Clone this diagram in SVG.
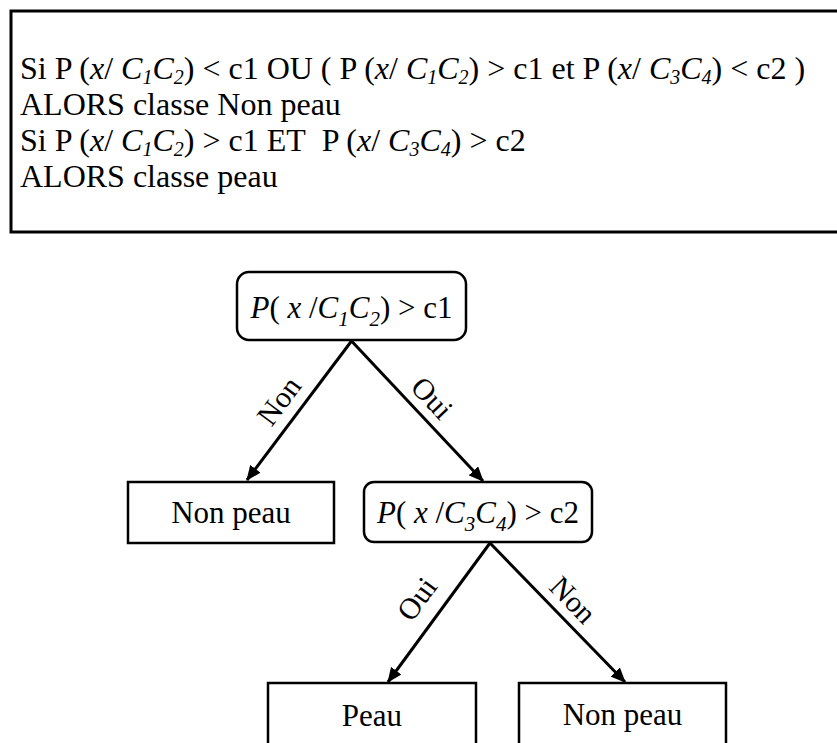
<svg xmlns="http://www.w3.org/2000/svg" width="837" height="743" viewBox="0 0 837 743">
<style>
text{font-family:"Liberation Serif","Times New Roman",serif;fill:#000}
.rule{font-size:32px}
.node{font-size:31px;text-anchor:middle}
.lbl{font-size:30px;text-anchor:middle}
.box{fill:#fff;stroke:#000;stroke-width:2.5}
.edge{stroke:#000;stroke-width:3;fill:none}
.i{font-style:italic}
</style>
<defs>
<marker id="ah" markerUnits="userSpaceOnUse" markerWidth="15" markerHeight="13" refX="14" refY="6.5" orient="auto">
<path d="M0,0 L15,6.5 L0,13 z" fill="#000"/>
</marker>
</defs>
<g id="rules">
<rect x="11" y="11" width="850" height="221" fill="#fff" stroke="#000" stroke-width="3"/>
<text class="rule" x="20" y="79">Si P (<tspan class="i">x</tspan>/ <tspan class="i">C<tspan font-size="20" dy="5">1</tspan><tspan dy="-5">C</tspan><tspan font-size="20" dy="5">2</tspan></tspan><tspan dy="-5">) &lt; c1 OU ( P (</tspan><tspan class="i">x</tspan>/ <tspan class="i">C<tspan font-size="20" dy="5">1</tspan><tspan dy="-5">C</tspan><tspan font-size="20" dy="5">2</tspan></tspan><tspan dy="-5">) &gt; c1 et P (</tspan><tspan class="i">x</tspan>/ <tspan class="i">C<tspan font-size="20" dy="5">3</tspan><tspan dy="-5">C</tspan><tspan font-size="20" dy="5">4</tspan></tspan><tspan dy="-5">) &lt; c2 )</tspan></text>
<text class="rule" x="20" y="115">ALORS classe Non peau</text>
<text class="rule" x="20" y="151">Si P (<tspan class="i">x</tspan>/ <tspan class="i">C<tspan font-size="20" dy="5">1</tspan><tspan dy="-5">C</tspan><tspan font-size="20" dy="5">2</tspan></tspan><tspan dy="-5">) &gt; c1 ET&#160; P (</tspan><tspan class="i">x</tspan>/ <tspan class="i">C<tspan font-size="20" dy="5">3</tspan><tspan dy="-5">C</tspan><tspan font-size="20" dy="5">4</tspan></tspan><tspan dy="-5">) &gt; c2</tspan></text>
<text class="rule" x="20" y="187">ALORS classe peau</text>
</g>
<g id="connectors">
<line class="edge" x1="351.5" y1="341" x2="247" y2="480" marker-end="url(#ah)"/>
<line class="edge" x1="351.5" y1="341" x2="483" y2="481" marker-end="url(#ah)"/>
<line class="edge" x1="490" y1="543" x2="388" y2="682" marker-end="url(#ah)"/>
<line class="edge" x1="490" y1="543" x2="625" y2="682" marker-end="url(#ah)"/>
<text class="lbl" transform="translate(279,401) rotate(-53)" y="10">Non</text>
<text class="lbl" transform="translate(432,398) rotate(46.5)" y="10">Oui</text>
<text class="lbl" transform="translate(417,599) rotate(-54)" y="10">Oui</text>
<text class="lbl" transform="translate(573,600) rotate(46)" y="10">Non</text>
</g>
<g id="n1">
<rect class="box" x="237" y="272" width="229" height="68" rx="12"/>
<text class="node" x="351.5" y="318"><tspan class="i">P</tspan>( <tspan class="i">x</tspan> /<tspan class="i">C<tspan font-size="21" dy="8">1</tspan><tspan dy="-8">C</tspan><tspan font-size="21" dy="8">2</tspan></tspan><tspan dy="-8">) &gt; c1</tspan></text>
</g>
<g id="n2">
<rect class="box" x="128" y="482" width="206" height="61"/>
<text class="node" x="231" y="523">Non peau</text>
</g>
<g id="n3">
<rect class="box" x="364" y="482" width="228" height="60" rx="10"/>
<text class="node" x="478" y="523"><tspan class="i">P</tspan>( <tspan class="i">x</tspan> /<tspan class="i">C<tspan font-size="21" dy="8">3</tspan><tspan dy="-8">C</tspan><tspan font-size="21" dy="8">4</tspan></tspan><tspan dy="-8">) &gt; c2</tspan></text>
</g>
<g id="n4">
<rect class="box" x="268" y="683" width="208" height="70"/>
<text class="node" x="372" y="726">Peau</text>
</g>
<g id="n5">
<rect class="box" x="519" y="683" width="207" height="70"/>
<text class="node" x="622.5" y="725">Non peau</text>
</g>
</svg>
